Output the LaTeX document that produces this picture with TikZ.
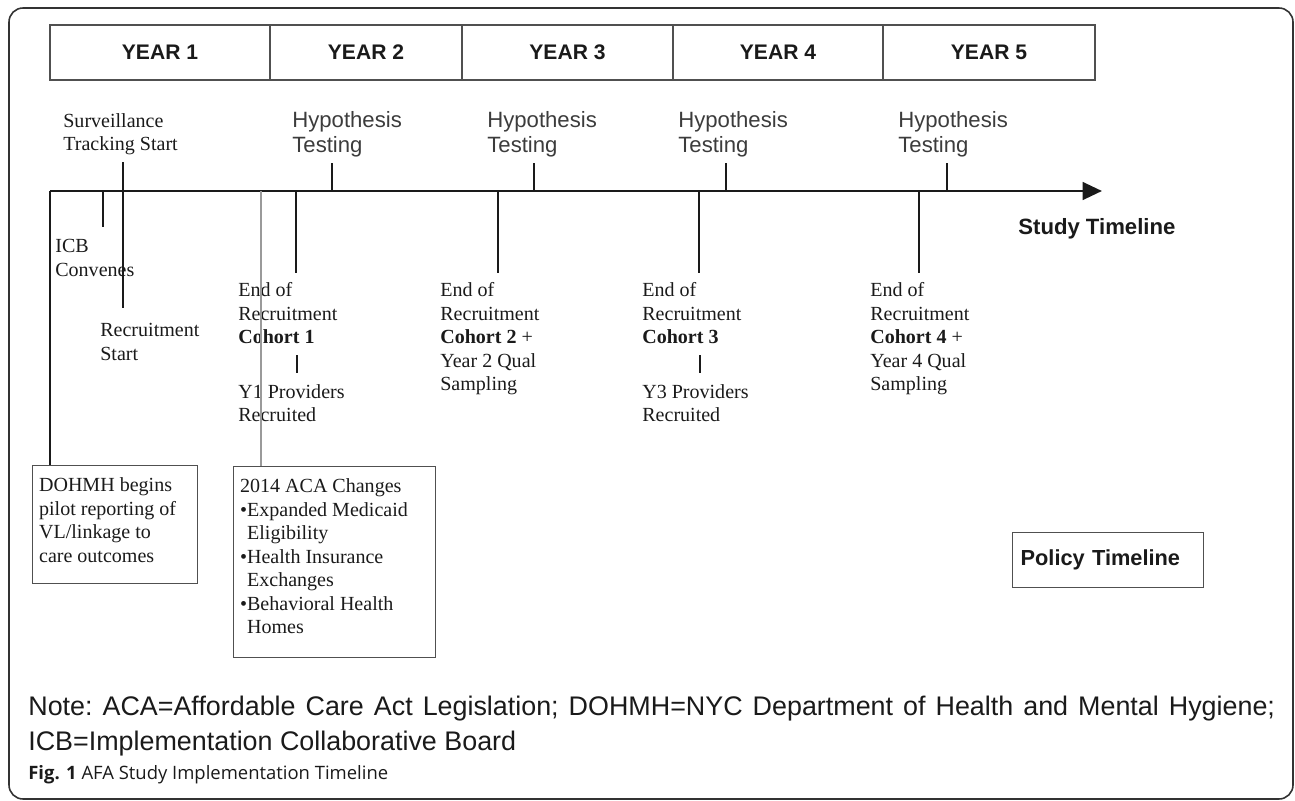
\documentclass[tikz,border=0pt]{standalone}
\usepackage{fontspec}
\setmainfont{Liberation Serif}
\setsansfont{Liberation Sans}
\newfontfamily\capfont{Open Sans}
\usepackage{xcolor}
\usepackage{tikz}
\usetikzlibrary{arrows.meta}
\definecolor{ink}{HTML}{1A1A1A}
\definecolor{frame}{HTML}{333333}
\definecolor{rule}{HTML}{505050}
\definecolor{faintline}{HTML}{9A9A9A}
\definecolor{hyptext}{HTML}{3C3C3C}
\tikzset{
  frameline/.style={draw=frame, line width=0.9pt},
  cellline/.style={draw=rule, line width=0.6pt},
  axisline/.style={draw=ink, line width=1.5pt},
  thintick/.style={draw=ink, line width=0.8pt},
  thicktick/.style={draw=ink, line width=1.6pt},
  greytick/.style={draw=faintline, line width=0.7pt},
  yearlab/.style={font=\sffamily\bfseries\fontsize{12}{14}\selectfont, text=ink, inner sep=0},
  serlab/.style={font=\fontsize{11.4}{13.4}\selectfont, text=ink, align=left, inner sep=0, anchor=north west},
  hyplab/.style={font=\sffamily\fontsize{12.6}{14.2}\selectfont, text=hyptext, align=left, inner sep=0, anchor=north west},
  infobox/.style={draw=rule, line width=0.7pt, text=ink, font=\fontsize{11.4}{13.4}\selectfont, anchor=north west, inner xsep=1.3mm, inner ysep=2.4mm},
  boldlab/.style={font=\sffamily\bfseries\fontsize{12.6}{14}\selectfont, text=ink},
  notelab/.style={font=\sffamily\fontsize{15.3}{19.8}\selectfont\frenchspacing, text=ink, inner sep=0, anchor=base west},
}

\begin{document}
\begin{tikzpicture}[x=0.02cm, y=-0.02cm]
  \useasboundingbox (0,0) rectangle (1295,801);
  \draw[frameline, rounded corners=8pt] (9,8) rectangle (1293,799);

  \draw[cellline] (50,25) rectangle (1095,80);
  \draw[cellline] (270,25) -- (270,80);
  \draw[cellline] (462,25) -- (462,80);
  \draw[cellline] (673,25) -- (673,80);
  \draw[cellline] (883,25) -- (883,80);
  \node[yearlab] (year1) at (160,52.5) {YEAR 1};
  \node[yearlab] (year2) at (366,52.5) {YEAR 2};
  \node[yearlab] (year3) at (567.5,52.5) {YEAR 3};
  \node[yearlab] (year4) at (778,52.5) {YEAR 4};
  \node[yearlab] (year5) at (989,52.5) {YEAR 5};

  \coordinate (axL) at (50,191);
  \coordinate (axR) at (1102,191);
  \draw[axisline, -{Triangle[length=11pt, width=10pt]}] (axL) -- (axR);
  \node[boldlab, inner sep=0, anchor=base west] (study) at (1018,234) {Study Timeline};

  \node[serlab] (surv) at (63,113) {Surveillance\\Tracking Start};
  \node[hyplab] (hyp2) at (292,111) {Hypothesis\\Testing};
  \node[hyplab] (hyp3) at (487,111) {Hypothesis\\Testing};
  \node[hyplab] (hyp4) at (678,111) {Hypothesis\\Testing};
  \node[hyplab] (hyp5) at (898,111) {Hypothesis\\Testing};

  \coordinate (survtop) at (123,162);
  \coordinate (recrbot) at (123,308);
  \draw[thintick] (survtop) -- (recrbot);
  \coordinate (icbend) at (103,227);
  \draw[thintick] (icbend |- axL) -- (icbend);
  \coordinate (h2) at (332,163);
  \coordinate (h3) at (534,163);
  \coordinate (h4) at (726,163);
  \coordinate (h5) at (947,163);
  \draw[thintick] (h2) -- (h2 |- axL);
  \draw[thintick] (h3) -- (h3 |- axL);
  \draw[thintick] (h4) -- (h4 |- axL);
  \draw[thintick] (h5) -- (h5 |- axL);

  \coordinate (c1) at (296,273);
  \coordinate (c2) at (498,273);
  \coordinate (c3) at (699,273);
  \coordinate (c4) at (919,273);
  \draw[thicktick] (c1 |- axL) -- (c1);
  \draw[thicktick] (c2 |- axL) -- (c2);
  \draw[thicktick] (c3 |- axL) -- (c3);
  \draw[thicktick] (c4 |- axL) -- (c4);

  \node[serlab] (icb) at (55,239) {ICB\\Convenes};
  \node[serlab] (recr) at (100,323) {Recruitment\\Start};

  \node[serlab] (coh1) at (238,282) {End of\\Recruitment\\\textbf{Cohort 1}};
  \node[serlab] (coh2) at (440,282) {End of\\Recruitment\\\textbf{Cohort 2} +\\Year 2 Qual\\Sampling};
  \node[serlab] (coh3) at (642,282) {End of\\Recruitment\\\textbf{Cohort 3}};
  \node[serlab] (coh4) at (870,282) {End of\\Recruitment\\\textbf{Cohort 4} +\\Year 4 Qual\\Sampling};

  \coordinate (p1a) at (297,355);
  \coordinate (p1b) at (297,373);
  \coordinate (p3a) at (700,355);
  \coordinate (p3b) at (700,373);
  \draw[thintick, line width=0.6pt] (p1a) -- (p1b);
  \draw[thintick, line width=0.6pt] (p3a) -- (p3b);
  \node[serlab] (prov1) at (238,384) {Y1 Providers\\Recruited};
  \node[serlab] (prov3) at (642,384) {Y3 Providers\\Recruited};

  \node[infobox] (dohmh) at (32,465) {\parbox[t][18.8mm][t]{30.4mm}{DOHMH begins\\pilot reporting of\\VL/linkage to\\care outcomes}};
  \node[infobox] (aca) at (233,466) {\parbox[t][33.4mm][t]{37.8mm}{2014 ACA Changes\\
    •Expanded Medicaid\\\phantom{•}Eligibility\\
    •Health Insurance\\\phantom{•}Exchanges\\
    •Behavioral Health\\\phantom{•}Homes}};
  \coordinate (acaline) at (261,191);
  \draw[greytick] (acaline) -- (acaline |- aca.north);
  \draw[thintick] (axL) -- (axL |- dohmh.north);

  \node[boldlab, draw=rule, line width=0.7pt, anchor=north west, align=left, text width=35mm, inner xsep=1.6mm, minimum height=11mm, font=\sffamily\bfseries\fontsize{12.4}{14}\selectfont] (policy) at (1012,532) {Policy Timeline};

  \node[notelab] (note1) at (28,715) {\makebox[24.94cm][s]{Note: ACA=Affordable Care Act Legislation; DOHMH=NYC Department of Health and Mental Hygiene;}};
  \node[notelab] (note2) at (28,750) {ICB=Implementation Collaborative Board};
  \node[anchor=base west, inner sep=0, text=ink, font=\capfont\fontsize{10.5}{12}\selectfont] (caption) at (28,779) {\textbf{Fig. 1} AFA Study Implementation Timeline};
\end{tikzpicture}
\end{document}
